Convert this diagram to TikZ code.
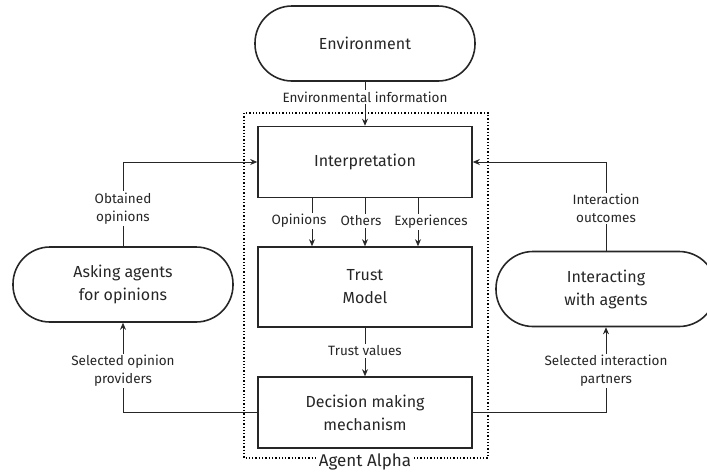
\documentclass[tikz,border=0pt]{standalone}
\usepackage{fontspec}
\setmainfont{Fira Sans}
\usetikzlibrary{arrows.meta}
\begin{document}
\begin{tikzpicture}[x=1pt,y=-1pt,
  box/.style={draw=black!85,line width=1.6pt,minimum width=214pt,align=center,font=\fontsize{16}{23}\selectfont,inner sep=0pt,text=black!85},
  pill/.style={draw=black!85,line width=1.6pt,rounded corners=37pt,minimum width=220pt,minimum height=75pt,align=center,font=\fontsize{16}{23}\selectfont,inner sep=0pt,text=black!85},
  lbl/.style={fill=white,inner sep=1.5pt,align=center,font=\fontsize{13.5}{18}\selectfont,text=black!85},
  conn/.style={draw=black!85,line width=0.8pt},
  arr/.style={conn,-{Stealth[length=7pt,width=6pt]}}
]
\useasboundingbox (0,0) rectangle (707,475);
% frame
\draw[line width=1.3pt,dotted] (244,113) rectangle (488,458);
% nodes
\node[pill] (env) at (365,43.5) {Environment};
\node[box,minimum height=71pt] (interp) at (365,162) {Interpretation};
\node[box,minimum height=80pt] (trust) at (365,287) {Trust\\Model};
\node[box,minimum height=71pt] (dec) at (365,412.5) {Decision making\\mechanism};
\node[pill] (ask) at (123,284.5) {Asking agents\\for opinions};
\node[pill] (inter) at (606,289) {Interacting\\with agents};
% connectors
\draw[arr] (env) -- (interp);
\coordinate (c1) at (123,162);
\coordinate (c2) at (606,162);
\coordinate (c3) at (123,412.5);
\coordinate (c4) at (606,412.5);
\draw[arr] (ask) -- (c1) -- (interp.west);
\draw[arr] (inter) -- (c2) -- (interp.east);
\draw[arr] (dec.west) -- (c3) -- (ask);
\draw[arr] (dec.east) -- (c4) -- (inter);
\draw[arr] (interp.south -| 312,0) -- (trust.north -| 312,0);
\draw[arr] (interp.south) -- (trust.north);
\draw[arr] (interp.south -| 418,0) -- (trust.north -| 418,0);
\draw[arr] (trust) -- (dec);
% labels
\node[lbl] (l1) at (365,97) {Environmental information};
\node[lbl] (l2) at (123,208.5) {Obtained\\opinions};
\node[lbl] (l3) at (606,208.5) {Interaction\\outcomes};
\node[lbl] (l4) at (123,371) {Selected opinion\\providers};
\node[lbl] (l5) at (606,371) {Selected interaction\\partners};
\node[lbl] (l6) at (299,221) {Opinions};
\node[lbl] (l7) at (361,221) {Others};
\node[lbl] (l8) at (431,222) {Experiences};
\node[lbl] (l9) at (365,351) {Trust values};
\node[lbl,font=\fontsize{17}{20}\selectfont,inner sep=3pt] (l10) at (365,462) {Agent Alpha};
\end{tikzpicture}
\end{document}
